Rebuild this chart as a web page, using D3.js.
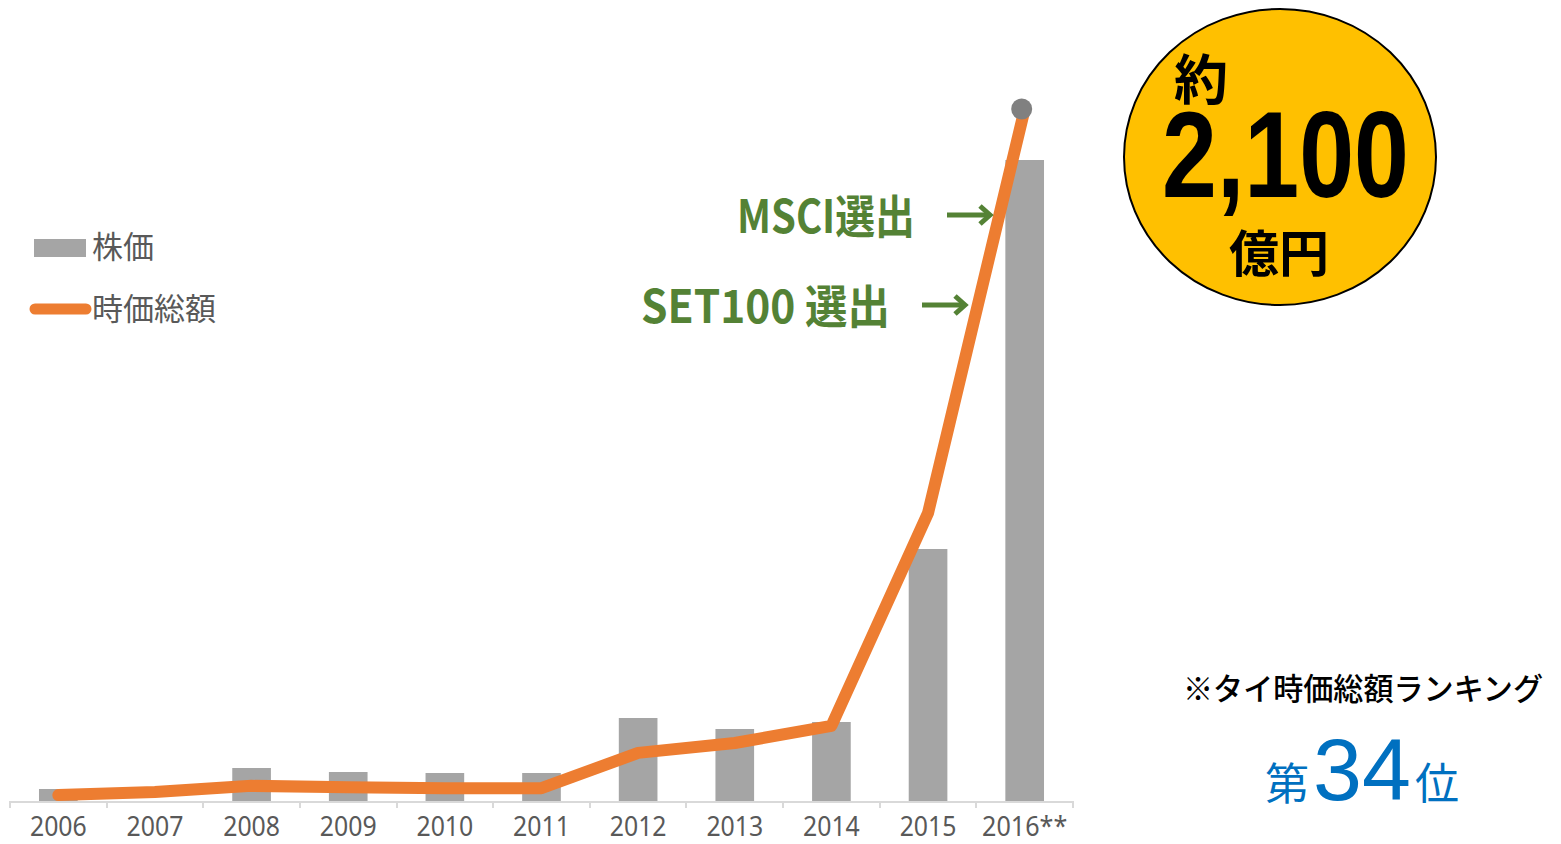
<!DOCTYPE html>
<meta charset="utf-8">
<style>
body { margin: 0; background: #fff; }
.axis path, .axis line { stroke: #d9d9d9; stroke-width: 2px; shape-rendering: crispEdges; }
.axis text { fill: #595959; font: 27px "Noto Sans", sans-serif; }
.legend text { fill: #595959; font: 31px "Noto Sans CJK JP", sans-serif; }
.note { font-family: "Noto Sans CJK JP", sans-serif; font-weight: bold; fill: #548235; }
</style>
<body>
<div id="plotHere"></div>
<script src="https://cdn.jsdelivr.net/npm/d3@7"></script>
<script>
// ---- data ----
const years = ["2006", "2007", "2008", "2009", "2010", "2011", "2012", "2013", "2014", "2015", "2016**"];
const stockPrice = [1.2, 0, 3.3, 2.9, 2.8, 2.8, 8.3, 7.2, 7.9, 25.2, 64.1];        // 株価 (bars)
const marketCap = [18, 27, 46, 42, 39, 39, 146, 176, 228, 874, 2100];             // 時価総額 (億円, line)
const notes = [
  {label: "MSCI選出", x: 737, y: 233, w: 178, ax: 947, ay: 215},
  {label: "SET100 選出", x: 641, y: 323, w: 249, ax: 922, ay: 305}
];

const W = 1561, H = 844;
const svg = d3.select("#plotHere").append("svg")
    .attr("width", W).attr("height", H);

// ---- scales ----
const x = d3.scaleBand().domain(years).range([10, 1073]).paddingInner(0.6).paddingOuter(0.3);
const xb = d3.scaleBand().domain(years).range([10, 1073]);  // full bands for tick edges
const yBar = d3.scaleLinear().domain([0, 80]).range([801, 1]);
const yLine = d3.scaleLinear().domain([0, 2100]).range([801, 109]);

// ---- bars ----
svg.append("g").selectAll("rect")
    .data(years)
  .enter().append("rect")
    .attr("x", d => x(d))
    .attr("width", x.bandwidth())
    .attr("y", (d, i) => yBar(stockPrice[i]))
    .attr("height", (d, i) => yBar(0) - yBar(stockPrice[i]))
    .attr("fill", "#a5a5a5");

// ---- axis ----
const ax = svg.append("g")
    .attr("class", "axis")
    .attr("transform", "translate(0,801)")
    .call(d3.axisBottom(xb).tickSize(0).tickSizeOuter(0).tickPadding(16));
ax.selectAll("text")
    .attr("dy", "0.71em")
    .attr("textLength", d => d.length * 14.2)
    .attr("lengthAdjust", "spacingAndGlyphs");
ax.selectAll(".edge")
    .data(years.map(d => xb(d)).concat([xb.range()[1]]))
  .enter().append("line")
    .attr("class", "edge")
    .attr("x1", d => d).attr("x2", d => d)
    .attr("y1", 0).attr("y2", 7);

// ---- line ----
const valueline = d3.line()
    .x((d, i) => xb(years[i]) + xb.bandwidth() / 2)
    .y(d => yLine(d));
svg.append("path")
    .datum(marketCap)
    .attr("d", valueline)
    .attr("fill", "none")
    .attr("stroke", "#ed7d31")
    .attr("stroke-width", 12)
    .attr("stroke-linejoin", "round")
    .attr("stroke-linecap", "round");

svg.append("circle")
    .attr("cx", xb(years[10]) + xb.bandwidth() / 2 - 3)
    .attr("cy", yLine(marketCap[10]))
    .attr("r", 10.5)
    .attr("fill", "#808080");

// ---- legend ----
const lg = svg.append("g").attr("class", "legend");
lg.append("rect").attr("x", 34).attr("y", 239).attr("width", 52).attr("height", 18).attr("fill", "#a5a5a5");
lg.append("text").attr("x", 92).attr("y", 258).text("株価");
lg.append("line").attr("x1", 35).attr("x2", 86).attr("y1", 309).attr("y2", 309)
    .attr("stroke", "#ed7d31").attr("stroke-width", 11).attr("stroke-linecap", "round");
lg.append("text").attr("x", 92).attr("y", 320).text("時価総額");

// ---- annotations ----
notes.forEach(n => {
  svg.append("text").attr("class", "note")
      .attr("x", n.x).attr("y", n.y)
      .attr("textLength", n.w).attr("lengthAdjust", "spacingAndGlyphs")
      .style("font-size", "46px")
      .text(n.label);
  const g = svg.append("g").attr("fill", "none").attr("stroke", "#548235").attr("stroke-width", 5);
  g.append("line").attr("x1", n.ax).attr("x2", n.ax + 43).attr("y1", n.ay).attr("y2", n.ay);
  g.append("polyline")
      .attr("points", [[n.ax + 33, n.ay - 9], [n.ax + 43, n.ay], [n.ax + 33, n.ay + 9]].join(" "))
      .attr("stroke-linejoin", "miter");
});

// ---- badge ----
const bx = 1280, by = 157;
svg.append("ellipse")
    .attr("cx", bx).attr("cy", by).attr("rx", 156).attr("ry", 148)
    .attr("fill", "#ffc000").attr("stroke", "#000").attr("stroke-width", 2);
svg.append("text").attr("x", 1201).attr("y", 100).attr("text-anchor", "middle")
    .style("font", "bold 54px 'Noto Sans CJK JP', sans-serif").text("約");
svg.append("text").attr("x", 1162).attr("y", 197)
    .attr("textLength", 247).attr("lengthAdjust", "spacingAndGlyphs")
    .style("font", "bold 122px 'Liberation Sans', Arial, sans-serif").text("2,100");
svg.append("text").attr("x", bx - 1).attr("y", 272).attr("text-anchor", "middle")
    .style("font", "bold 50px 'Noto Sans CJK JP', sans-serif").text("億円");

// ---- ranking ----
svg.append("text").attr("x", 1183).attr("y", 700)
    .attr("textLength", 360).attr("lengthAdjust", "spacingAndGlyphs")
    .style("font", "500 31px 'Noto Sans CJK JP', sans-serif").attr("fill", "#000")
    .text("※タイ時価総額ランキング");
const rk = svg.append("text").attr("x", 1362).attr("y", 800).attr("text-anchor", "middle").attr("fill", "#0070c0");
rk.append("tspan").style("font", "44px 'Noto Sans CJK JP', sans-serif").text("第");
rk.append("tspan").attr("dx", 4).style("font", "88px 'Liberation Sans', Arial, sans-serif").text("34");
rk.append("tspan").attr("dx", 4).style("font", "44px 'Noto Sans CJK JP', sans-serif").text("位");
</script>
</body>
